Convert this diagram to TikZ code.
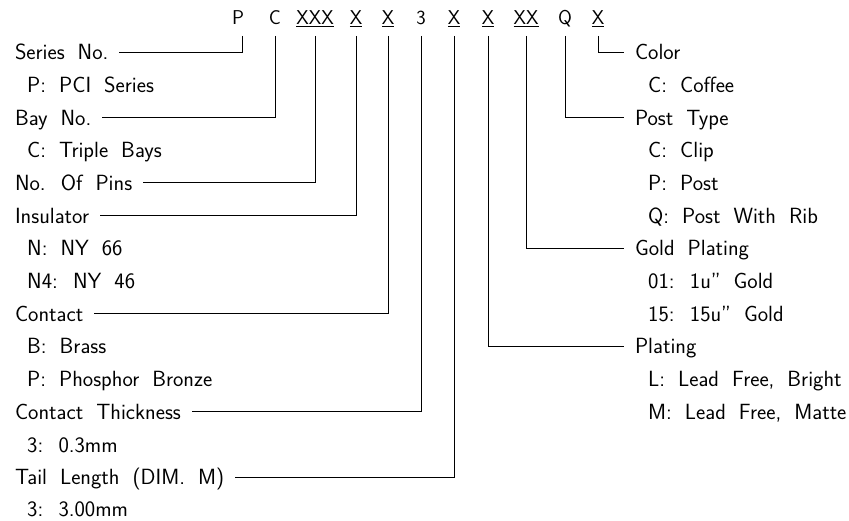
\documentclass[tikz,border=0pt]{standalone}
\usepackage{fontspec}
\newcommand\shrift{\sffamily\fontsize{22}{26}\selectfont\spaceskip 13pt plus 2pt\relax}
\tikzset{
  kod/.style={anchor=base, inner sep=0pt, outer sep=11pt, text depth=0pt,
    font=\sffamily\fontsize{20}{24}\selectfont},
  kat/.style={anchor=west, inner sep=0pt, outer sep=11pt, text height=15.5pt,
    text depth=0pt, font=\shrift},
  opt/.style={anchor=west, inner sep=0pt, text height=15.5pt, text depth=0pt,
    font=\shrift},
  svyaz/.style={line width=0.8pt}
}
\begin{document}
\begin{tikzpicture}[x=1pt,y=1pt]
  \useasboundingbox (0,0) rectangle (849,520);

  % Код изделия
  \node[kod] (cP) at (238,495) {P};
  \node[kod] (cC) at (275,495) {C};
  \node[kod] (cPins) at (315,495) {\underline{XXX}};
  \node[kod] (cIns) at (356,495) {\underline{X}};
  \node[kod] (cCon) at (388,495) {\underline{X}};
  \node[kod] (cThk) at (421,495) {3};
  \node[kod] (cTail) at (454,495) {\underline{X}};
  \node[kod] (cPlt) at (488,495) {\underline{X}};
  \node[kod] (cGold) at (526,495) {\underline{XX}};
  \node[kod] (cPost) at (565,495) {Q};
  \node[kod] (cCol) at (598,495) {\underline{X}};

  % Левая колонка
  \node[kat] (lSeries) at (4,468.0) {Series No.};
  \node[opt] (oSeries) at (27,435.3) {P: PCI Series};
  \node[kat] (lBay) at (4,402.6) {Bay No.};
  \node[opt] (oBay) at (27,369.9) {C: Triple Bays};
  \node[kat] (lPins) at (4,337.2) {No. Of Pins};
  \node[kat] (lIns) at (4,304.6) {Insulator};
  \node[opt] (oIns1) at (27,271.9) {N: NY 66};
  \node[opt] (oIns2) at (27,239.2) {N4: NY 46};
  \node[kat] (lCon) at (4,206.5) {Contact};
  \node[opt] (oCon1) at (27,173.8) {B: Brass};
  \node[opt] (oCon2) at (27,141.1) {P: Phosphor Bronze};
  \node[kat] (lThk) at (4,108.4) {Contact Thickness};
  \node[opt] (oThk) at (27,75.7) {3: 0.3mm};
  \node[kat] (lTail) at (4,43.0) {Tail Length (DIM. M)};
  \node[opt] (oTail) at (27,11.0) {3: 3.00mm};

  % Правая колонка
  \node[kat] (rCol) at (624,468.0) {Color};
  \node[opt] (oCol) at (648,435.3) {C: Coffee};
  \node[kat] (rPost) at (624,402.6) {Post Type};
  \node[opt] (oPost1) at (648,369.9) {C: Clip};
  \node[opt] (oPost2) at (648,337.2) {P: Post};
  \node[opt] (oPost3) at (648,304.6) {Q: Post With Rib};
  \node[kat] (rGold) at (624,271.9) {Gold Plating};
  \node[opt] (oGold1) at (648,239.2) {01: 1u'' Gold};
  \node[opt] (oGold2) at (648,206.5) {15: 15u'' Gold};
  \node[kat] (rPlt) at (624,173.8) {Plating};
  \node[opt] (oPlt1) at (648,141.1) {L: Lead Free, Bright};
  \node[opt] (oPlt2) at (648,108.4) {M: Lead Free, Matte};

  % Выноски
  \draw[svyaz] ([xshift=4pt]cP.south) |- (lSeries);
  \draw[svyaz] (cC.south) |- (lBay);
  \draw[svyaz] (cPins.south) |- (lPins);
  \draw[svyaz] (cIns.south) |- (lIns);
  \draw[svyaz] (cCon.south) |- (lCon);
  \draw[svyaz] (cThk.south) |- (lThk);
  \draw[svyaz] (cTail.south) |- (lTail);
  \draw[svyaz] (cPlt.south) |- (rPlt);
  \draw[svyaz] (cGold.south) |- (rGold);
  \draw[svyaz] (cPost.south) |- (rPost);
  \draw[svyaz] (cCol.south) |- (rCol);
\end{tikzpicture}
\end{document}
